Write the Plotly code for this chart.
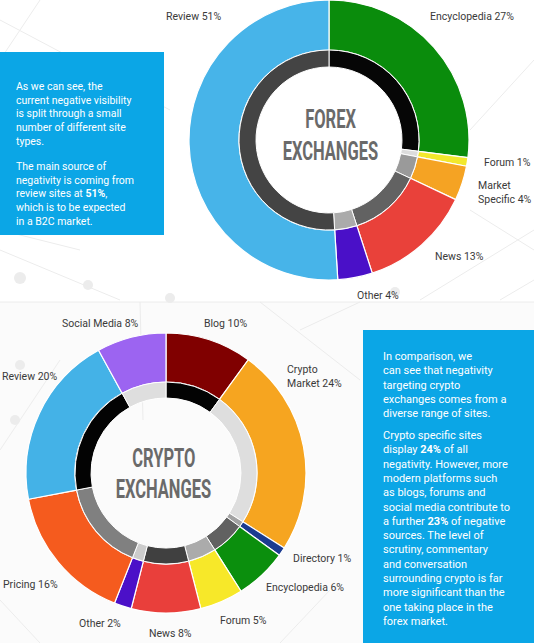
import plotly.graph_objects as go

W, H = 534, 643

# ---------------- DATA ----------------
forex_labels = ["Encyclopedia", "Forum", "Market<br>Specific", "News", "Other", "Review"]
forex_values = [27, 1, 4, 13, 4, 51]
forex_outer_colors = ["#0a8c0c", "#f2e82c", "#f5a323", "#e9413a", "#4a10c8", "#47b4e9"]
forex_inner_colors = ["#060606", "#dcdcdc", "#9a9a9a", "#626262", "#ababab", "#444444"]

crypto_labels = ["Blog", "Crypto<br>Market", "Directory", "Encyclopedia", "Forum",
                 "News", "Other", "Pricing", "Review", "Social Media"]
crypto_values = [10, 24, 1, 6, 5, 8, 2, 16, 20, 8]
crypto_outer_colors = ["#800000", "#f6a520", "#1b3b90", "#0b8f0d", "#f7e829",
                       "#e93f3b", "#4b10c8", "#f55b1e", "#44b2e7", "#9c64f1"]
crypto_inner_colors = ["#030303", "#dedede", "#a2a2a2", "#616161", "#ababab",
                       "#404040", "#cccccc", "#808080", "#030303", "#dedede"]

forex_title = ["FOREX", "EXCHANGES"]
crypto_title = ["CRYPTO", "EXCHANGES"]

forex_text = [
    "As we can see, the<br>current negative visibility<br>is split through a small<br>number of different site<br>types.",
    "The main source of<br>negativity is coming from<br>review sites at <b>51%</b>,<br>which is to be expected<br>in a B2C market.",
]
crypto_text = [
    "In comparison, we<br>can see that negativity<br>targeting crypto<br>exchanges comes from a<br>diverse range of sites.",
    "Crypto specific sites<br>display <b>24%</b> of all<br>negativity. However, more<br>modern platforms such<br>as blogs, forums and<br>social media contribute to<br>a further <b>23%</b> of negative<br>sources. The level of<br>scrutiny, commentary<br>and conversation<br>surrounding crypto is far<br>more significant than the<br>one taking place in the<br>forex market.",
]

# ---------------- LAYOUT HELPERS ----------------
def X(px):
    return px / W

def Y(py):
    return 1 - py / H

def dom(cx, cy, r):
    return dict(x=[X(cx - r), X(cx + r)], y=[max(0, Y(cy + r)), min(1, Y(cy - r))])

fig = go.Figure()

def donut(values, labels, outer_c, inner_c, cx, cy, r_out, r_mid, r_in):
    fig.add_trace(go.Pie(values=values, labels=labels, sort=False, direction="clockwise",
                         rotation=0, hole=r_mid / r_out, textinfo="none", hoverinfo="label+percent",
                         marker=dict(colors=outer_c, line=dict(color="#ffffff", width=1.2)),
                         domain=dom(cx, cy, r_out), showlegend=False))
    fig.add_trace(go.Pie(values=values, labels=labels, sort=False, direction="clockwise",
                         rotation=0, hole=r_in / r_mid, textinfo="none", hoverinfo="label+percent",
                         marker=dict(colors=inner_c, line=dict(color="#ffffff", width=1)),
                         domain=dom(cx, cy, r_mid), showlegend=False))

donut(forex_values, forex_labels, forex_outer_colors, forex_inner_colors, 329, 140, 140, 90, 73)
donut(crypto_values, crypto_labels, crypto_outer_colors, crypto_inner_colors, 166, 473, 140, 91, 75)

# ---------------- BACKGROUND DECORATION ----------------
shapes = []
shapes.append(dict(type="rect", xref="paper", yref="paper", x0=0, x1=1, y0=0, y1=Y(302),
                   fillcolor="#fbfbfb", line=dict(width=0), layer="below"))
shapes.append(dict(type="line", xref="paper", yref="paper", x0=0, x1=1, y0=Y(302), y1=Y(302),
                   line=dict(color="#ececec", width=1), layer="below"))
net_lines = [((0, 250), (120, 300)), ((0, 20), (170, 110)), ((40, 0), (0, 60)),
             ((470, 130), (534, 60)), ((470, 210), (534, 250)), ((420, 300), (534, 230)),
             ((140, 302), (143, 420)), ((0, 450), (60, 360)), ((260, 302), (360, 380)),
             ((300, 330), (360, 302)), ((0, 600), (40, 643)), ((280, 643), (330, 590)),
             ((80, 250), (0, 230)), ((500, 300), (534, 280))]
for (a, b) in net_lines:
    shapes.append(dict(type="line", xref="paper", yref="paper", x0=X(a[0]), y0=Y(a[1]),
                       x1=X(b[0]), y1=Y(b[1]), line=dict(color="#ececec", width=1), layer="below"))
for (cx, cy, rr) in [(20, 278, 6), (88, 285, 5), (170, 298, 5), (395, 292, 5), (15, 420, 5), (20, 365, 5)]:
    shapes.append(dict(type="circle", xref="paper", yref="paper", x0=X(cx - rr), x1=X(cx + rr),
                       y0=Y(cy + rr), y1=Y(cy - rr), fillcolor="#ececec", line=dict(width=0), layer="below"))

# text boxes
BOX = "#0ba6e6"
shapes.append(dict(type="rect", xref="paper", yref="paper", x0=X(0), x1=X(164), y0=Y(235), y1=Y(52),
                   fillcolor=BOX, line=dict(width=0), layer="below"))
shapes.append(dict(type="rect", xref="paper", yref="paper", x0=X(363), x1=X(534), y0=Y(643), y1=Y(330),
                   fillcolor=BOX, line=dict(width=0), layer="below"))

# ---------------- ANNOTATIONS ----------------
ann = []
LBL = dict(family="Roboto, sans-serif", size=10.5, color="#3a3a3a")

def lab(text, x, y, xa="center", align="center"):
    ann.append(dict(text=text, x=X(x), y=Y(y), xref="paper", yref="paper", showarrow=False,
                    xanchor=xa, yanchor="middle", align=align, font=LBL))

def pct(labels, values, i):
    return f"{labels[i]} {values[i]}%"

# forex labels
lab(pct(forex_labels, forex_values, 5), 193, 16)
lab(pct(forex_labels, forex_values, 0), 472, 16)
lab(pct(forex_labels, forex_values, 1), 507, 162)
lab(pct(forex_labels, forex_values, 2), 476, 192, xa="left", align="left")
lab(pct(forex_labels, forex_values, 3), 459, 256)
lab(pct(forex_labels, forex_values, 4), 378, 295)

# crypto labels
lab(pct(crypto_labels, crypto_values, 9), 100, 323)
lab(pct(crypto_labels, crypto_values, 0), 225, 323)
lab(pct(crypto_labels, crypto_values, 1), 285, 376, xa="left", align="left")
lab(pct(crypto_labels, crypto_values, 8), 0, 376, xa="left", align="left")
lab(pct(crypto_labels, crypto_values, 2), 322, 558)
lab(pct(crypto_labels, crypto_values, 3), 305, 587)
lab(pct(crypto_labels, crypto_values, 7), 30, 584)
lab(pct(crypto_labels, crypto_values, 6), 100, 623)
lab(pct(crypto_labels, crypto_values, 4), 243, 620)
lab(pct(crypto_labels, crypto_values, 5), 170, 633)

# center titles (condensed horizontally by the post script below)
TF = dict(family="Roboto, sans-serif", size=25, color="#6a6a6a")
for t, (x, y) in zip(forex_title, [(330, 119), (330, 151)]):
    ann.append(dict(text=f"<b>{t}</b>", x=X(x), y=Y(y), xref="paper", yref="paper", showarrow=False,
                    xanchor="center", yanchor="middle", font=TF))
for t, (x, y) in zip(crypto_title, [(164, 458), (164, 490)]):
    ann.append(dict(text=f"<b>{t}</b>", x=X(x), y=Y(y), xref="paper", yref="paper", showarrow=False,
                    xanchor="center", yanchor="middle", font=TF))

# box paragraphs
for t, y in zip(forex_text, [114.2, 194.3]):
    ann.append(dict(text=t, x=X(14), y=Y(y), xref="paper", yref="paper", showarrow=False,
                    xanchor="left", yanchor="middle", align="left",
                    font=dict(family="Roboto, sans-serif", size=10.5, color="#ffffff")))
for t, y in zip(crypto_text, [385.4, 528]):
    ann.append(dict(text=t, x=X(381), y=Y(y), xref="paper", yref="paper", showarrow=False,
                    xanchor="left", yanchor="middle", align="left",
                    font=dict(family="Roboto, sans-serif", size=11, color="#ffffff")))

fig.update_layout(width=W, height=H, margin=dict(l=0, r=0, t=0, b=0),
                  paper_bgcolor="#ffffff", plot_bgcolor="#ffffff",
                  shapes=shapes, annotations=ann)

squeeze_js = """
var titles = ['FOREX', 'EXCHANGES', 'CRYPTO'];
document.querySelectorAll('text.annotation-text').forEach(function(t){
  if (titles.indexOf(t.textContent) >= 0) {
    t.style.transformBox = 'fill-box';
    t.style.transformOrigin = 'center';
    t.style.transform = 'scaleX(0.66)';
  }
});
"""

fig.write_html("out.html", post_script=squeeze_js)
